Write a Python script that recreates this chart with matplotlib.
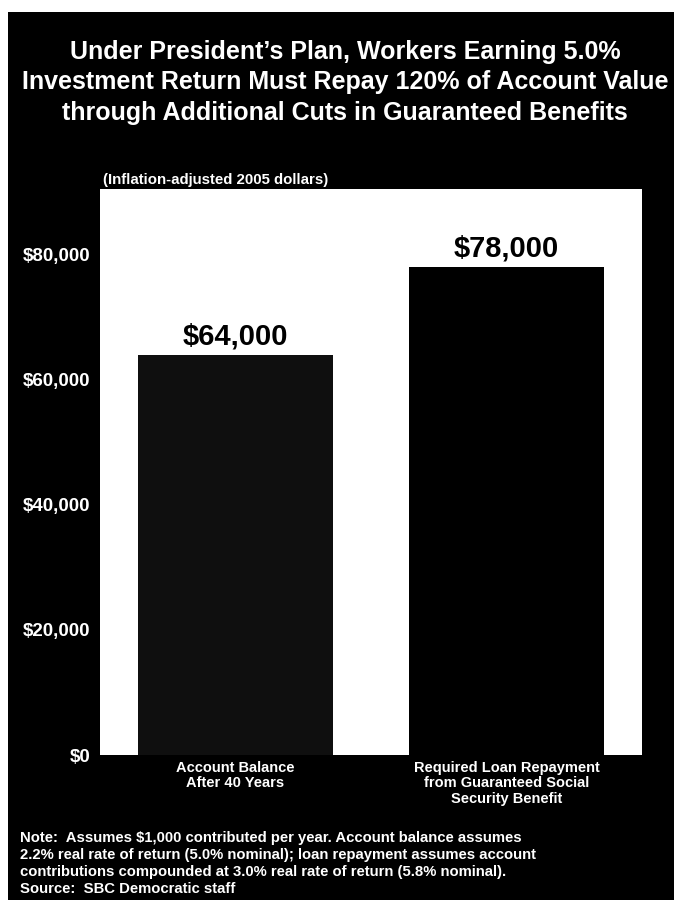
import matplotlib
matplotlib.use("Agg")
import matplotlib.pyplot as plt
from matplotlib.patches import Rectangle

# Data
categories = ["Account Balance\nAfter 40 Years",
              "Required Loan Repayment\nfrom Guaranteed Social\nSecurity Benefit"]
values = [64000, 78000]
value_labels = ["$64,000", "$78,000"]
yticks = [0, 20000, 40000, 60000, 80000]
ytick_labels = ["$0", "$20,000", "$40,000", "$60,000", "$80,000"]

title = ("Under President\u2019s Plan, Workers Earning 5.0%\n"
         "Investment Return Must Repay 120% of Account Value\n"
         "through Additional Cuts in Guaranteed Benefits")
subtitle = "(Inflation-adjusted 2005 dollars)"
note = ("Note:  Assumes $1,000 contributed per year. Account balance assumes\n"
        "2.2% real rate of return (5.0% nominal); loan repayment assumes account\n"
        "contributions compounded at 3.0% real rate of return (5.8% nominal).\n"
        "Source:  SBC Democratic staff")

sans = "Liberation Sans"

W, H = 674, 900
fig = plt.figure(figsize=(W / 100, H / 100), dpi=100)
fig.patch.set_facecolor("white")

# black panel (white margin at top and left)
fig.add_artist(Rectangle((8 / W, 0), 1, 1 - 12 / H, transform=fig.transFigure,
                         facecolor="black", edgecolor="none", zorder=0))

# plot area in pixel coordinates
x0, x1 = 100, 642
y_top, y_bot = 189, 755
ax = fig.add_axes([x0 / W, 1 - y_bot / H, (x1 - x0) / W, (y_bot - y_top) / H])
ax.set_facecolor("white")

xpos = list(range(len(values)))
bar_colors = ["#0f0f0f", "black"]
ax.bar(xpos, values, width=0.72, color=bar_colors, edgecolor="none", zorder=2)
ax.set_xlim(-0.5, 1.5)
ax.set_ylim(0, 90500)

for x, v, lab in zip(xpos, values, value_labels):
    ax.text(x, v + 700, lab, ha="center", va="bottom", fontsize=21,
            fontweight="bold", family=sans, color="black")

ax.set_yticks(yticks)
ax.set_yticklabels(ytick_labels, family=sans, fontweight="bold",
                   fontsize=13.5, color="white")
ax.set_xticks(xpos)
ax.set_xticklabels(categories, family=sans, fontweight="bold",
                   fontsize=10.5, color="white", linespacing=1.15, va="top")
ax.tick_params(axis="both", length=0)
ax.tick_params(axis="y", pad=7)
ax.tick_params(axis="x", pad=4)
for s in ax.spines.values():
    s.set_visible(False)

fig.text(345 / W, 1 - 40 / H, title, ha="center", va="top", color="white",
         fontsize=18, fontweight="bold", family=sans, linespacing=1.34)
fig.text(103 / W, 1 - 180 / H, subtitle, ha="left", va="center", color="white",
         fontsize=10.8, fontweight="bold", family=sans)
fig.text(20 / W, 1 - 831 / H, note, ha="left", va="top", color="white",
         fontsize=10.7, family=sans, fontweight="bold", linespacing=1.28)

fig.savefig("out.png", dpi=100, facecolor=fig.get_facecolor())
